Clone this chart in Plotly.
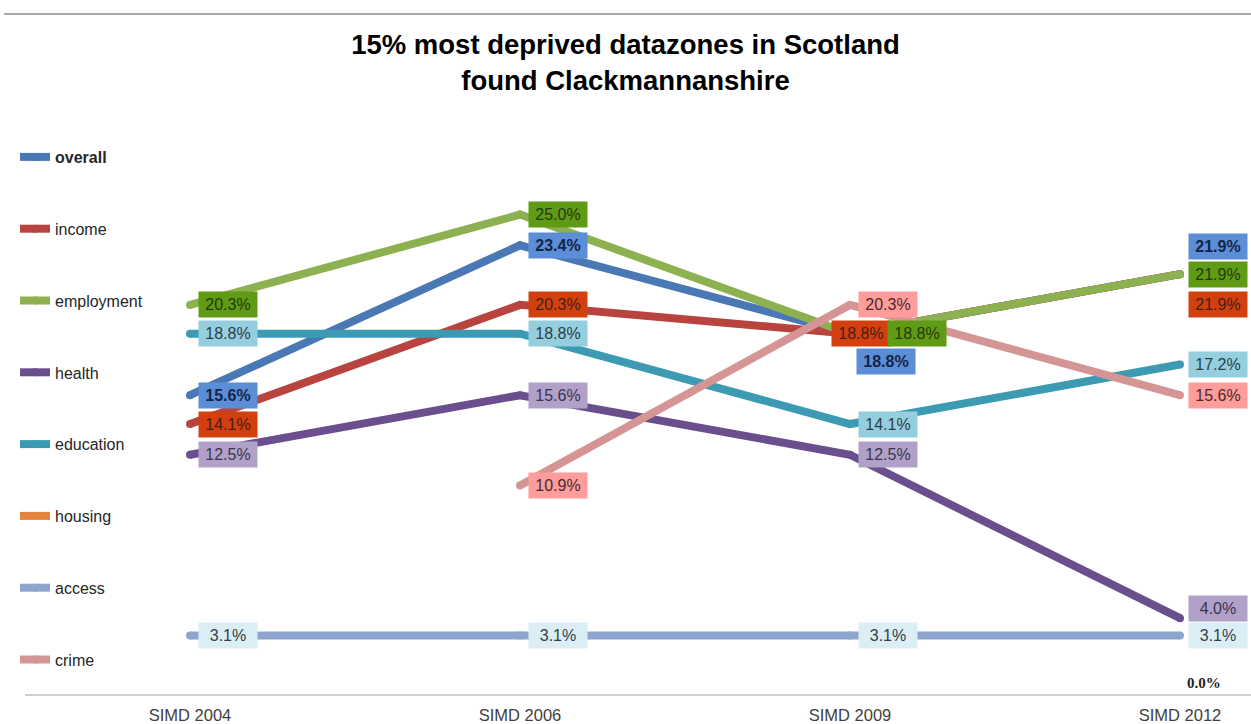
import plotly.graph_objects as go

categories = ["SIMD 2004", "SIMD 2006", "SIMD 2009", "SIMD 2012"]
series_names = ["overall", "income", "employment", "health", "education", "housing", "access", "crime"]
overall = [15.6, 23.4, 18.8, 21.9]
income = [14.1, 20.3, 18.8, 21.9]
employment = [20.3, 25.0, 18.8, 21.9]
health = [12.5, 15.6, 12.5, 4.0]
education = [18.8, 18.8, 14.1, 17.2]
housing = [None, None, None, 0.0]
access = [3.1, 3.1, 3.1, 3.1]
crime = [None, 10.9, 20.3, 15.6]

values = [overall, income, employment, health, education, housing, access, crime]

line_colors = ["#4A78B5", "#B8433F", "#8DB151", "#6A4E8E", "#3C9BB2", "#E5843C", "#8EA6CE", "#D59595"]
label_bg = ["#5B8ED6", "#D2400F", "#5F9B15", "#B1A1C9", "#94CEDF", "rgba(0,0,0,0)", "#DCEEF5", "#FF9C9C"]
label_fc = ["#14244A", "#4A1E12", "#263A0C", "#3A3450", "#2E3E48", "#222222", "#333F48", "#4A2A2A"]

# label nudges (series index, point index) -> (dx px, dy px; positive dy = down)
nudges = {
    (0, 2): (-2, 28),
    (1, 2): (-27, 0),
    (2, 2): (29, 0),
    (0, 3): (0, -28),
    (1, 3): (0, 30),
    (3, 3): (0, -10),
    (5, 3): (-3, -12),
}

W, H = 1251, 724
ML, MR, MT, MB = 0, 0, 130, 29
PW, PH = W - ML - MR, H - MT - MB

xs = list(range(len(categories)))
fig = go.Figure()
for i, (name, vals) in enumerate(zip(series_names, values)):
    disp = "<b>overall</b>" if name == "overall" else name
    fig.add_trace(go.Scatter(
        x=xs, y=vals, name=disp, legendgroup=name,
        mode="lines" if name == "housing" else "lines+markers",
        line=dict(color=line_colors[i], width=8),
        marker=dict(color=line_colors[i], size=8),
        connectgaps=False, hoverinfo="skip",
    ))

annotations = []
for i, (name, vals) in enumerate(zip(series_names, values)):
    for j, v in enumerate(vals):
        if v is None:
            continue
        dx, dy = nudges.get((i, j), (0, 0))
        txt = f"{v:.1f}%"
        if name == "overall":
            txt = f"<b>{txt}</b>"
        if name == "housing":
            annotations.append(dict(
                x=j, y=v, xref="x", yref="y", text=f"<b>{v:.1f}%</b>", showarrow=False,
                xanchor="left", yanchor="middle", xshift=8 + dx, yshift=-dy,
                font=dict(family="Liberation Serif, Times New Roman, serif", size=15, color=label_fc[i]),
            ))
            continue
        annotations.append(dict(
            x=j, y=v, xref="x", yref="y", text=txt, showarrow=False,
            xanchor="left", yanchor="middle", xshift=8 + dx, yshift=-dy,
            bgcolor=label_bg[i], borderpad=3, width=52, height=19, align="center",
            font=dict(family="Liberation Sans, Arial, sans-serif", size=16, color=label_fc[i]),
        ))

x0 = -190 / 330
x1 = x0 + PW / 330

fig.update_layout(
    width=W, height=H,
    paper_bgcolor="white", plot_bgcolor="white",
    margin=dict(l=ML, r=MR, t=MT, b=MB, autoexpand=False),
    title=dict(
        text="15% most deprived datazones in Scotland<br>found Clackmannanshire",
        x=0.5, xanchor="center", y=1 - 54 / H, yanchor="middle", yref="container",
        font=dict(family="Liberation Sans, Arial, sans-serif", size=27.5, color="#000000", weight="bold"),
    ),
    xaxis=dict(
        range=[x0, x1], tickmode="array", tickvals=xs, ticktext=categories,
        showgrid=False, zeroline=False, showline=False,
        ticks="", ticklabelstandoff=8,
        tickfont=dict(family="Liberation Sans, Arial, sans-serif", size=16.5, color="#404040"),
    ),
    yaxis=dict(range=[0, 29.4], visible=False, showgrid=False, zeroline=False),
    legend=dict(
        x=15 / PW, y=1 - (145 - MT - 5) / PH, xanchor="left", yanchor="top",
        tracegroupgap=48, bgcolor="rgba(0,0,0,0)", maxheight=1,
        font=dict(family="Liberation Sans, Arial, sans-serif", size=16, color="#262626"),
        itemclick=False, itemdoubleclick=False,
    ),
    showlegend=True,
    annotations=annotations,
    shapes=[
        dict(type="line", xref="paper", yref="paper", x0=4 / PW, x1=1,
             y0=(H - MB - 14) / PH, y1=(H - MB - 14) / PH, line=dict(color="#8C8C8C", width=1.5)),
        dict(type="line", xref="paper", yref="paper", x0=25 / PW, x1=1,
             y0=0, y1=0, line=dict(color="#A0A0A0", width=1)),
    ],
)

fig.write_html("out.html", config={"displayModeBar": False},
               post_script="document.body.style.margin='0';document.body.style.overflow='hidden';")
